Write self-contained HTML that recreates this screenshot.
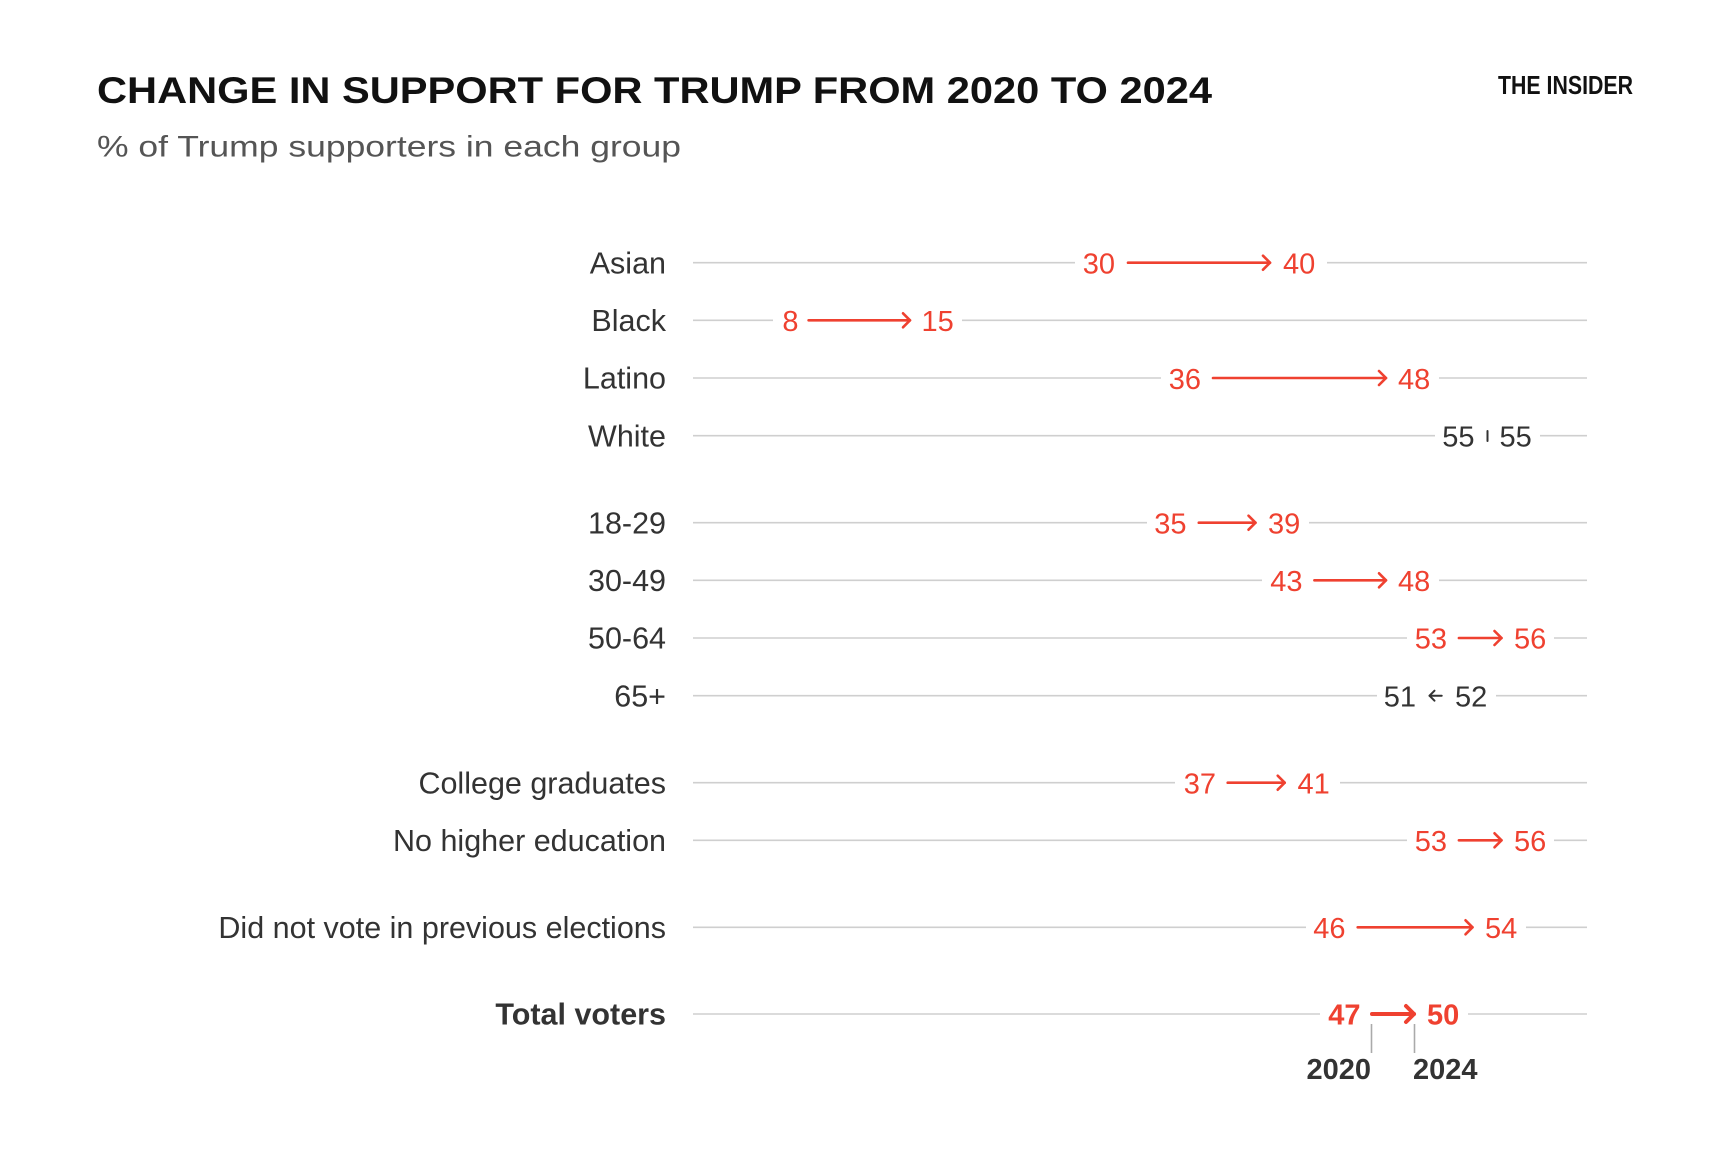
<!DOCTYPE html>
<html>
<head>
<meta charset="utf-8">
<style>
  html, body { margin: 0; padding: 0; background: #ffffff; }
  svg { display: block; }
  text { font-family: "Liberation Sans", Arial, sans-serif; }
</style>
</head>
<body>
<svg width="1732" height="1155" viewBox="0 0 1732 1155" xmlns="http://www.w3.org/2000/svg">
  <rect width="1732" height="1155" fill="#ffffff"/>

  <!-- Header -->
  <text x="97" y="103" font-size="37" font-weight="bold" fill="#111" textLength="1115" lengthAdjust="spacingAndGlyphs">CHANGE IN SUPPORT FOR TRUMP FROM 2020 TO 2024</text>
  <text x="97" y="156.5" font-size="30" fill="#555" textLength="584" lengthAdjust="spacingAndGlyphs">% of Trump supporters in each group</text>
  <text x="1498" y="94" font-size="26" font-weight="bold" fill="#111" textLength="135" lengthAdjust="spacingAndGlyphs">THE INSIDER</text>

  <!-- Gray row lines -->
  <g stroke="#cfcfcf" stroke-width="1.6">
    <line x1="693" y1="262.7" x2="1587" y2="262.7"/>
    <line x1="693" y1="320.3" x2="1587" y2="320.3"/>
    <line x1="693" y1="378" x2="1587" y2="378"/>
    <line x1="693" y1="435.7" x2="1587" y2="435.7"/>
    <line x1="693" y1="522.7" x2="1587" y2="522.7"/>
    <line x1="693" y1="580.3" x2="1587" y2="580.3"/>
    <line x1="693" y1="638" x2="1587" y2="638"/>
    <line x1="693" y1="695.7" x2="1587" y2="695.7"/>
    <line x1="693" y1="782.7" x2="1587" y2="782.7"/>
    <line x1="693" y1="840.3" x2="1587" y2="840.3"/>
    <line x1="693" y1="927.3" x2="1587" y2="927.3"/>
    <line x1="693" y1="1014" x2="1587" y2="1014"/>
  </g>

  <!-- White gaps behind labels/arrows -->
  <g fill="#ffffff">
    <rect x="1075" y="247" width="252" height="32"/>   <!-- Asian -->
    <rect x="773" y="305" width="189" height="32"/>    <!-- Black -->
    <rect x="1161" y="362" width="278" height="32"/>   <!-- Latino -->
    <rect x="1435" y="420" width="105" height="32"/>   <!-- White -->
    <rect x="1147" y="507" width="162" height="32"/>   <!-- 18-29 -->
    <rect x="1262" y="564" width="177" height="32"/>   <!-- 30-49 -->
    <rect x="1407" y="622" width="147" height="32"/>   <!-- 50-64 -->
    <rect x="1377" y="680" width="119" height="32"/>   <!-- 65+ -->
    <rect x="1175" y="767" width="165" height="32"/>   <!-- College -->
    <rect x="1407" y="824" width="147" height="32"/>   <!-- No higher -->
    <rect x="1306" y="911" width="220" height="32"/>   <!-- Did not vote -->
    <rect x="1320" y="998" width="148" height="32"/>   <!-- Total -->
  </g>

  <!-- Row labels -->
  <g font-size="30.5" fill="#333" text-anchor="end">
    <text x="666" y="273.3">Asian</text>
    <text x="666" y="330.9">Black</text>
    <text x="666" y="388.6">Latino</text>
    <text x="666" y="446.3">White</text>
    <text x="666" y="533.3">18-29</text>
    <text x="666" y="590.9">30-49</text>
    <text x="666" y="648.6">50-64</text>
    <text x="666" y="706.3">65+</text>
    <text x="666" y="793.3">College graduates</text>
    <text x="666" y="850.9">No higher education</text>
    <text x="666" y="937.9">Did not vote in previous elections</text>
    <text x="666" y="1024.6" font-weight="bold">Total voters</text>
  </g>

  <!-- Red arrows -->
  <g stroke="#ef4130" stroke-width="2.6" fill="none" stroke-linecap="round" stroke-linejoin="round">
    <line x1="1128" y1="262.7" x2="1270" y2="262.7"/><polyline points="1263,255.7 1270,262.7 1263,269.7"/>
    <line x1="808.6" y1="320.3" x2="910" y2="320.3"/><polyline points="903,313.3 910,320.3 903,327.3"/>
    <line x1="1213" y1="378" x2="1386" y2="378"/><polyline points="1379,371 1386,378 1379,385"/>
    <line x1="1198.8" y1="522.7" x2="1255.5" y2="522.7"/><polyline points="1248.5,515.7 1255.5,522.7 1248.5,529.7"/>
    <line x1="1314.4" y1="580.3" x2="1386" y2="580.3"/><polyline points="1379,573.3 1386,580.3 1379,587.3"/>
    <line x1="1458.9" y1="638" x2="1501.5" y2="638"/><polyline points="1494.5,631 1501.5,638 1494.5,645"/>
    <line x1="1227.7" y1="782.7" x2="1284.7" y2="782.7"/><polyline points="1277.7,775.7 1284.7,782.7 1277.7,789.7"/>
    <line x1="1458.9" y1="840.3" x2="1501.5" y2="840.3"/><polyline points="1494.5,833.3 1501.5,840.3 1494.5,847.3"/>
    <line x1="1357.7" y1="927.3" x2="1472.5" y2="927.3"/><polyline points="1465.5,920.3 1472.5,927.3 1465.5,934.3"/>
  </g>
  <!-- Total arrow (bold) -->
  <g stroke="#ef4130" stroke-width="4" fill="none" stroke-linecap="round" stroke-linejoin="round">
    <line x1="1372" y1="1014" x2="1414" y2="1014"/><polyline points="1406,1006 1414,1014 1406,1022"/>
  </g>

  <!-- Dark markers -->
  <g stroke="#333" stroke-width="2" fill="none" stroke-linecap="round" stroke-linejoin="round">
    <line x1="1487.5" y1="431" x2="1487.5" y2="441"/>
    <line x1="1441.7" y1="695.7" x2="1429.5" y2="695.7"/><polyline points="1434.5,690.7 1429.5,695.7 1434.5,700.7"/>
  </g>

  <!-- Red values -->
  <g font-size="29" fill="#ef4130">
    <g text-anchor="end">
      <text x="1115" y="273.5">30</text>
      <text x="798.5" y="331">8</text>
      <text x="1201" y="388.8">36</text>
      <text x="1186.5" y="533.5">35</text>
      <text x="1302.5" y="591">43</text>
      <text x="1447" y="648.7">53</text>
      <text x="1216" y="793.5">37</text>
      <text x="1447" y="851">53</text>
      <text x="1345.5" y="938">46</text>
    </g>
    <g text-anchor="start">
      <text x="1283" y="273.5">40</text>
      <text x="921.5" y="331">15</text>
      <text x="1398" y="388.8">48</text>
      <text x="1268" y="533.5">39</text>
      <text x="1398" y="591">48</text>
      <text x="1514" y="648.7">56</text>
      <text x="1297.5" y="793.5">41</text>
      <text x="1514" y="851">56</text>
      <text x="1485" y="938">54</text>
    </g>
    <text x="1360.5" y="1024.7" text-anchor="end" font-weight="bold">47</text>
    <text x="1427" y="1024.7" text-anchor="start" font-weight="bold">50</text>
  </g>

  <!-- Dark values -->
  <g font-size="29" fill="#333">
    <text x="1474.5" y="446.5" text-anchor="end">55</text>
    <text x="1499.5" y="446.5" text-anchor="start">55</text>
    <text x="1416" y="706.5" text-anchor="end">51</text>
    <text x="1455" y="706.5" text-anchor="start">52</text>
  </g>

  <!-- Year ticks & labels -->
  <g stroke="#aaaaaa" stroke-width="1.6">
    <line x1="1371.5" y1="1024" x2="1371.5" y2="1053"/>
    <line x1="1414.5" y1="1024" x2="1414.5" y2="1053"/>
  </g>
  <g font-size="29" font-weight="bold" fill="#333">
    <text x="1371" y="1079" text-anchor="end">2020</text>
    <text x="1413" y="1079" text-anchor="start">2024</text>
  </g>
</svg>
</body>
</html>
